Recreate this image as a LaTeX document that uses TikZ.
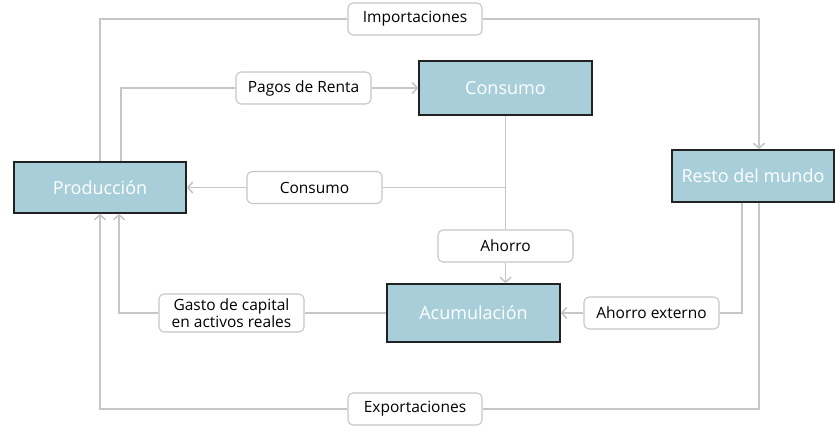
\documentclass[tikz,border=0pt]{standalone}
\usepackage{fontspec}
\setmainfont{Open Sans}
\usetikzlibrary{arrows.meta}
\definecolor{boxfill}{HTML}{A8CFD9}
\definecolor{linegray}{HTML}{C6C6C6}
\definecolor{boxedge}{HTML}{222222}
\tikzset{
  mainbox/.style={draw=boxedge, line width=1.4pt, fill=boxfill, text=white, font=\fontsize{18}{21}\selectfont, inner sep=0pt, anchor=center},
  lbl/.style={draw=linegray, line width=1.1pt, fill=white, rounded corners=5pt, text=black, font=\fontsize{15.5}{18}\selectfont, inner sep=0pt, align=center, minimum height=32pt},
  conn/.style={draw=linegray, line width=1.6pt},
  arr/.style={conn, -{Straight Barb[length=5pt,width=11pt,line width=1.6pt]}}
}
\begin{document}
\begin{tikzpicture}[x=1pt,y=-1pt]
\useasboundingbox (0,0) rectangle (835,426);
% main boxes
\node[mainbox, minimum width=172pt, minimum height=51pt] (prod) at (100,187.5) {Producción};
\node[mainbox, minimum width=173pt, minimum height=54pt] (cons) at (505.5,88) {Consumo};
\node[mainbox, minimum width=162pt, minimum height=52pt] (resto) at (753,176) {Resto del mundo};
\node[mainbox, minimum width=173pt, minimum height=58pt] (acum) at (473.5,313) {Acumulación};
% labels
\node[lbl, minimum width=134pt] (imp) at (415,19) {Importaciones};
\node[lbl, minimum width=135pt] (pagos) at (303.5,88) {Pagos de Renta};
\node[lbl, minimum width=135pt] (lcons) at (314.5,187.5) {Consumo};
\node[lbl, minimum width=135pt] (ahorro) at (505.5,246) {Ahorro};
\node[lbl, minimum width=135pt] (ahext) at (651.5,313) {Ahorro externo};
\node[lbl, minimum width=145pt, minimum height=38pt] (gasto) at (231.5,313) {\fontsize{15.5}{15.5}\selectfont Gasto de capital\\[-1pt]\fontsize{15.5}{15.5}\selectfont en activos reales};
\node[lbl, minimum width=134pt] (exp) at (415,409) {Exportaciones};
% connectors
\coordinate (impdown) at ([xshift=6pt]resto.north);
\coordinate (expup) at ([xshift=6pt]resto.south);
\coordinate (extup) at ([xshift=-11pt]resto.south);
\coordinate (pagosup) at ([xshift=21pt]prod.north);
\coordinate (gastoin) at ([xshift=19pt]prod.south);
\draw[conn] (prod.north) |- (imp.west);
\draw[arr] (imp.east) -| (impdown);
\draw[conn] (pagosup) |- (pagos.west);
\draw[arr] (pagos.east) -- (cons.west);
\draw[conn] (cons.south) |- (lcons.east);
\draw[arr] (lcons.west) -- (lcons.west -| prod.east);
\draw[conn] (cons.south) -- (ahorro.north);
\draw[arr] (ahorro.south) -- (ahorro.south |- acum.north);
\draw[conn] (extup) |- (ahext.east);
\draw[arr] (ahext.west) -- (acum.east);
\draw[conn] (acum.west) -- (gasto.east);
\draw[arr] (gasto.west) -| (gastoin);
\draw[conn] (expup) |- (exp.east);
\draw[arr] (exp.west) -| (prod.south);
\end{tikzpicture}
\end{document}
